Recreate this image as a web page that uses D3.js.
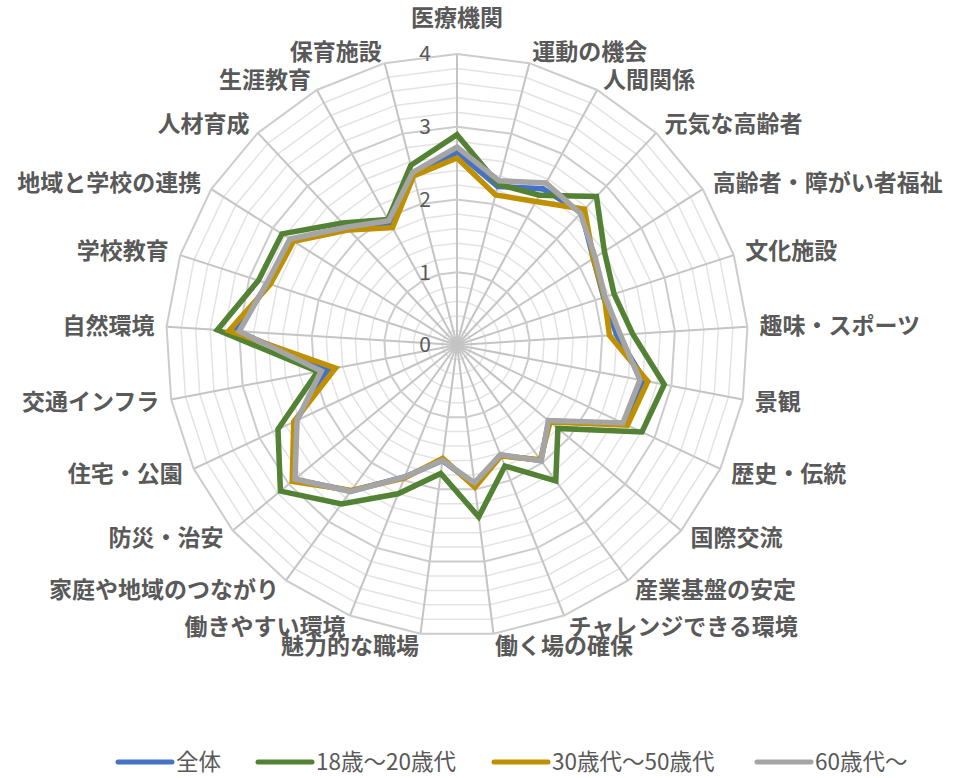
<!DOCTYPE html>
<html>
<head>
<meta charset="utf-8">
<script src="https://cdn.jsdelivr.net/npm/d3@7"></script>
<style>
  body { margin: 0; background: #fff; }
  #chart { width: 956px; height: 778px; }
  text { font-family: "Noto Sans CJK JP", "Noto Sans", sans-serif; fill: #595959; }
</style>
</head>
<body>
<div id="chart"></div>
<script>
var categories = ["医療機関","運動の機会","人間関係","元気な高齢者","高齢者・障がい者福祉","文化施設",
  "趣味・スポーツ","景観","歴史・伝統","国際交流","産業基盤の安定","チャレンジできる環境",
  "働く場の確保","魅力的な職場","働きやすい環境","家庭や地域のつながり","防災・治安","住宅・公園",
  "交通インフラ","自然環境","学校教育","地域と学校の連携","人材育成","生涯教育","保育施設"];

var seriesNames = ["全体","18歳～20歳代","30歳代～50歳代","60歳代～"];
var seriesColors = ["#4472c4","#548235","#bf9000","#a5a5a5"];

var zentai   = [2.65,2.25,2.45,2.50,2.22,2.12,2.20,2.63,2.55,1.64,1.96,1.63,1.93,1.60,1.95,2.48,2.90,2.45,1.80,3.05,2.73,2.70,2.20,1.90,2.43];
var age18_20 = [2.89,2.28,2.35,2.80,2.40,2.27,2.42,2.90,2.81,1.80,2.31,1.79,2.38,1.78,2.20,2.70,3.15,2.72,1.95,3.30,2.87,2.85,2.30,1.97,2.55];
var age30_50 = [2.57,2.13,2.25,2.56,2.22,2.13,2.10,2.67,2.59,1.66,1.95,1.64,1.97,1.57,1.97,2.47,2.94,2.48,1.70,3.14,2.70,2.66,2.17,1.84,2.40];
var age60    = [2.72,2.33,2.54,2.48,2.25,2.14,2.25,2.56,2.52,1.63,1.97,1.62,1.91,1.60,1.95,2.49,2.89,2.43,1.90,3.00,2.75,2.72,2.22,1.95,2.45];

var tickValues = [0,1,2,3,4];
var minorStep = 0.2;

var allSeries = [zentai, age18_20, age30_50, age60];

var W = 956, H = 778, cx = 457, cy = 345;

var svg = d3.select("#chart").append("svg")
  .attr("width", W).attr("height", H);

var r = d3.scaleLinear().domain([0, 4]).range([0, 291]);
var angle = d3.scaleLinear().domain([0, categories.length]).range([0, 2 * Math.PI]);

var g = svg.append("g").attr("transform", "translate(" + cx + "," + cy + ")");

// minor rings
var minorVals = d3.range(minorStep, 4 + 1e-9, minorStep).filter(function(v){
  return Math.abs(v - Math.round(v)) > 1e-6;
});
var ringLine = d3.lineRadial().curve(d3.curveLinearClosed);
function ring(v){
  return ringLine(categories.map(function(c, i){ return [angle(i), r(v)]; }));
}
g.selectAll(".minor").data(minorVals).enter().append("path")
  .attr("d", ring)
  .style("fill", "none").style("stroke", "#e3e3e3").style("stroke-width", 1.5);

// spokes
g.selectAll(".spoke").data(categories).enter().append("line")
  .attr("x1", 0).attr("y1", 0)
  .attr("x2", function(d, i){ return r(4) * Math.sin(angle(i)); })
  .attr("y2", function(d, i){ return -r(4) * Math.cos(angle(i)); })
  .style("stroke", "#c4c4c4").style("stroke-width", 2);

// major rings
g.selectAll(".major").data(tickValues.slice(1)).enter().append("path")
  .attr("d", ring)
  .style("fill", "none").style("stroke", "#cccccc").style("stroke-width", 2);

// value labels
g.selectAll(".tick").data(tickValues).enter().append("text")
  .attr("x", -26)
  .attr("y", function(d){ return -r(d); })
  .attr("dy", "0.35em")
  .attr("text-anchor", "end")
  .style("font-size", "21px")
  .text(function(d){ return d; });

// category labels
g.selectAll(".cat").data(categories).enter().append("text")
  .each(function(d, i){
    var a = angle(i), s = Math.sin(a), c = Math.cos(a);
    var px = r(4) * s, py = -r(4) * c;
    var t = d3.select(this);
    if (Math.abs(s) < 0.05) {
      t.attr("x", px).attr("y", py - 36).attr("text-anchor", "middle");
    } else {
      t.attr("x", px + 12 * s).attr("y", py - 12 * c)
       .attr("text-anchor", s > 0 ? "start" : "end");
    }
  })
  .attr("dy", "0.35em")
  .style("font-size", "23px")
  .style("font-weight", "bold")
  .text(function(d){ return d; });

// series
var seriesLine = d3.lineRadial()
  .angle(function(d, i){ return angle(i); })
  .radius(function(d){ return r(d); })
  .curve(d3.curveLinearClosed);

g.selectAll(".series").data(allSeries).enter().append("path")
  .attr("d", seriesLine)
  .style("fill", "none")
  .style("stroke", function(d, i){ return seriesColors[i]; })
  .style("stroke-width", 5.5)
  .style("stroke-linejoin", "miter");

// legend
var legendX = d3.scaleOrdinal().domain(seriesNames).range([118, 258, 494, 757]);
var legend = svg.append("g").attr("transform", "translate(0,762)");
var items = legend.selectAll(".item").data(seriesNames).enter().append("g")
  .attr("transform", function(d){ return "translate(" + legendX(d) + ",0)"; });
items.append("line")
  .attr("x1", 0).attr("x2", 54).attr("y1", 0).attr("y2", 0)
  .style("stroke", function(d, i){ return seriesColors[i]; })
  .style("stroke-width", 5).style("stroke-linecap", "round");
items.append("text")
  .attr("x", 58).attr("y", 0).attr("dy", "0.35em")
  .style("font-size", "22.5px")
  .text(function(d){ return d; });
</script>
</body>
</html>
